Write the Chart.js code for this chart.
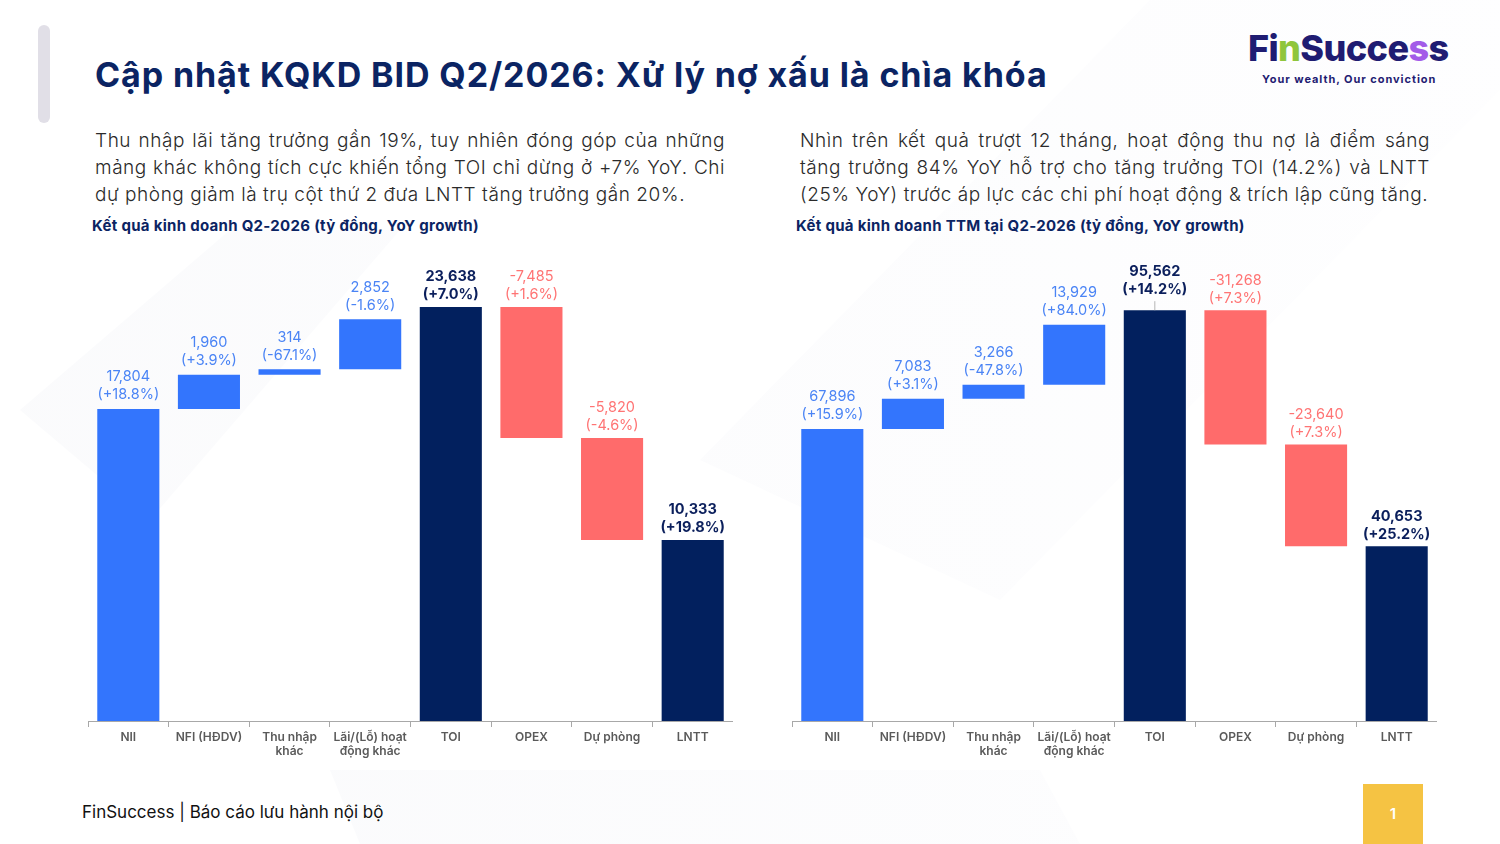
<!DOCTYPE html>
<html>
<head>
<meta charset="utf-8">
<script src="https://cdn.jsdelivr.net/npm/chart.js@4.4.1/dist/chart.umd.min.js"></script>
<style>
  html, body { margin: 0; padding: 0; }
  body { width: 1500px; height: 844px; position: relative; overflow: hidden; background: #fff; font-family: Inter, "Noto Sans", sans-serif; }
  .deco { position: absolute; left: 0; top: 0; width: 1500px; height: 844px; background: linear-gradient(90deg, #f2f3f7, #fcfcfe); }
  .d1 { clip-path: polygon(20px 410px, 230px 230px, 400px 230px, 150px 520px); opacity: .35; }
  .d2 { clip-path: polygon(700px 460px, 1150px 0, 1500px 0, 1500px 90px, 1000px 600px); opacity: .35; }
  .d3 { clip-path: polygon(330px 770px, 1040px 770px, 1080px 844px, 360px 844px); opacity: .4; }
  .bar-side { position: absolute; left: 38px; top: 25px; width: 12px; height: 98px; border-radius: 6px; background: #e1dfe7; }
  h1 { position: absolute; left: 95px; top: 54px; margin: 0; font-size: 34px; font-weight: 700; color: #0b2463; letter-spacing: 0.9px; white-space: nowrap; }
  .logo { position: absolute; left: 1248px; top: 26px; font-size: 36px; font-weight: 800; color: #1f1c72; letter-spacing: -0.6px; }
  .logo .g { color: #8fc63d; } .logo .p { color: #a35ce8; }
  .tag { position: absolute; left: 1262px; top: 72px; font-size: 11px; font-weight: 700; color: #1f1c72; letter-spacing: 0.95px; }
  .para { position: absolute; top: 127px; width: 630px; font-size: 19px; line-height: 27px; color: #2a2a2a; font-weight: 300; letter-spacing: 0.55px; text-align: justify; }
  .sub { position: absolute; top: 216px; font-size: 15px; font-weight: 700; color: #0b2463; letter-spacing: 0.3px; }
  canvas { position: absolute; }
  .foot { position: absolute; left: 82px; top: 802px; font-size: 17px; color: #111; }
  .page { position: absolute; left: 1363px; top: 784px; width: 60px; height: 60px; background: #f5c343; color: #fff; font-size: 15px; font-weight: 600; text-align: center; line-height: 60px; }
</style>
</head>
<body>
<div class="deco d1"></div>
<div class="deco d2"></div>
<div class="deco d3"></div>
<div class="bar-side"></div>
<h1>Cập nhật KQKD BID Q2/2026: Xử lý nợ xấu là chìa khóa</h1>
<div class="logo">Fi<span class="g">n</span>Succe<span class="p">s</span>s</div>
<div class="tag">Your wealth, Our conviction</div>

<div class="para" style="left:95px">Thu nhập lãi tăng trưởng gần 19%, tuy nhiên đóng góp của những mảng khác không tích cực khiến tổng TOI chỉ dừng ở +7% YoY. Chi dự phòng giảm là trụ cột thứ 2 đưa LNTT tăng trưởng gần 20%.</div>
<div class="para" style="left:800px">Nhìn trên kết quả trượt 12 tháng, hoạt động thu nợ là điểm sáng tăng trưởng 84% YoY hỗ trợ cho tăng trưởng TOI (14.2%) và LNTT (25% YoY) trước áp lực các chi phí hoạt động &amp; trích lập cũng tăng.</div>
<div class="sub" style="left:92px">Kết quả kinh doanh Q2-2026 (tỷ đồng, YoY growth)</div>
<div class="sub" style="left:796px">Kết quả kinh doanh TTM tại Q2-2026 (tỷ đồng, YoY growth)</div>

<canvas id="chartQ2" width="645" height="515" style="left:88px; top:255px"></canvas>
<canvas id="chartTTM" width="645" height="515" style="left:792px; top:255px"></canvas>

<div class="foot">FinSuccess | Báo cáo lưu hành nội bộ</div>
<div class="page">1</div>

<script>
const categories = ["NII", "NFI (HĐDV)", ["Thu nhập", "khác"], ["Lãi/(Lỗ) hoạt", "động khác"], "TOI", "OPEX", "Dự phòng", "LNTT"];
const kinds = ["inc", "inc", "inc", "inc", "total", "dec", "dec", "total"];

const q2Values = [17804, 1960, 314, 2852, 23638, -7485, -5820, 10333];
const q2Growth = ["+18.8%", "+3.9%", "-67.1%", "-1.6%", "+7.0%", "+1.6%", "-4.6%", "+19.8%"];

const ttmValues = [67896, 7083, 3266, 13929, 95562, -31268, -23640, 40653];
const ttmGrowth = ["+15.9%", "+3.1%", "-47.8%", "+84.0%", "+14.2%", "+7.3%", "+7.3%", "+25.2%"];

const barColors = { inc: "#3375fd", total: "#02205e", dec: "#ff6b6b" };
const labelColors = { inc: "#4a84f5", total: "#0b1f5c", dec: "#ff7474" };

function toRanges(values) {
    let run = 0;
    return values.map((v, i) => {
        if (kinds[i] === "total") {
            run = v;
            return [0, v];
        }
        const start = run;
        run += v;
        return [start, run];
    });
}

// value + growth above each bar
const waterfallLabels = {
    id: "waterfallLabels",
    afterDatasetsDraw(chart, args, opts) {
        const ctx = chart.ctx;
        const meta = chart.getDatasetMeta(0);
        meta.data.forEach((bar, i) => {
            let top = Math.min(bar.y, bar.base);
            const kind = kinds[i];
            ctx.save();
            if (opts.leader === i) {
                ctx.strokeStyle = "#b5b5b5";
                ctx.lineWidth = 1;
                ctx.beginPath();
                ctx.moveTo(bar.x, top);
                ctx.lineTo(bar.x, top - 9);
                ctx.stroke();
                top -= 9;
            }
            const gap = kind === "inc" ? 0 : 2;
            ctx.fillStyle = labelColors[kind];
            ctx.font = (kind === "total" ? "700 " : "400 ") + "14.5px Inter, 'Noto Sans', sans-serif";
            ctx.textAlign = "center";
            ctx.textBaseline = "middle";
            ctx.fillText(opts.values[i].toLocaleString("en-US"), bar.x, top - 32 + gap);
            ctx.fillText("(" + opts.growth[i] + ")", bar.x, top - 14 + gap);
            ctx.restore();
        });
    }
};

function makeChart(id, values, growth, yMax, leader) {
    const ctx = document.getElementById(id).getContext("2d");
    return new Chart(ctx, {
        type: "bar",
        data: {
            labels: categories,
            datasets: [{
                data: toRanges(values),
                backgroundColor: kinds.map(k => barColors[k]),
                borderWidth: 0,
                barPercentage: 0.77,
                categoryPercentage: 1
            }]
        },
        options: {
            responsive: false,
            animation: false,
            layout: { padding: 0 },
            plugins: {
                legend: { display: false },
                tooltip: { enabled: false },
                waterfallLabels: { values: values, growth: growth, leader: leader }
            },
            scales: {
                x: {
                    grid: { display: true, drawOnChartArea: false, drawTicks: true, tickLength: 6, color: "#a8a8a8", offset: true },
                    border: { display: true, color: "#a8a8a8" },
                    ticks: {
                        color: "#5a5a5a",
                        font: { size: 12, weight: "600", family: "Inter, 'Noto Sans', sans-serif" },
                        maxRotation: 0,
                        autoSkip: false,
                        padding: 3
                    },
                    afterFit: s => { s.height = 49; }
                },
                y: { display: false, min: 0, max: yMax }
            }
        },
        plugins: [waterfallLabels]
    });
}

makeChart("chartQ2", q2Values, q2Growth, 26600, -1);
makeChart("chartTTM", ttmValues, ttmGrowth, 108400, 4);
</script>
</body>
</html>
